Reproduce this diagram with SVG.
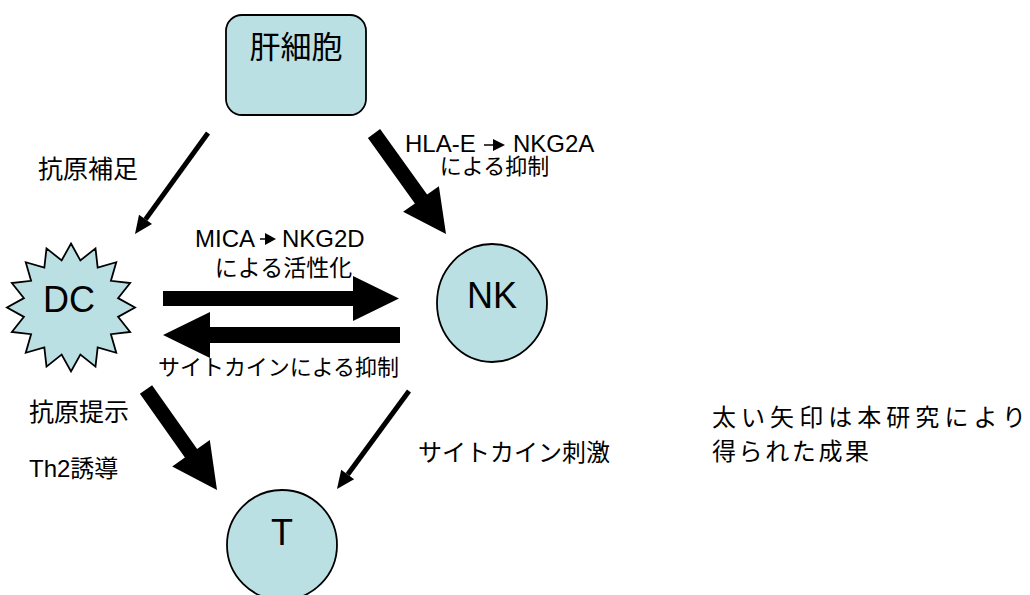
<svg xmlns="http://www.w3.org/2000/svg" width="1030" height="595" viewBox="0 0 1030 595">
<style>
.node{fill:#BBE0E3;stroke:#000;stroke-width:1.8}
.t{font-family:'Liberation Sans','Noto Sans CJK JP',sans-serif;fill:#000}
.big{font-size:36px;text-anchor:middle}
.lbl{font-size:24px}
.arr{fill:#000;stroke:none}
.thin{stroke:#000;stroke-width:5;fill:none}
</style>
<rect width="1030" height="595" fill="#fff"/>
<g id="liver">
<rect class="node" x="226" y="15" width="140" height="100" rx="16"/>
<text class="t" x="296" y="58" font-size="31" text-anchor="middle">肝細胞</text>
</g>
<g id="dc">
<polygon class="node" points="71,243.5 80.37,260.42 95.49,248.37 97.67,267.59 116.25,262.25 110.91,280.83 130.13,283.01 118.08,298.14 135,307.5 118.08,316.86 130.13,331.99 110.91,334.17 116.25,352.75 97.67,347.41 95.49,366.63 80.37,354.58 71,371.5 61.63,354.58 46.51,366.63 44.33,347.41 25.75,352.75 31.09,334.17 11.87,331.99 23.92,316.86 7,307.5 23.92,298.14 11.87,283.01 31.09,280.83 25.75,262.25 44.33,267.59 46.51,248.37 61.63,260.42"/>
<text class="t big" x="69" y="312">DC</text>
</g>
<g id="nk">
<ellipse class="node" cx="492" cy="303" rx="55" ry="59"/>
<text class="t big" x="492" y="308">NK</text>
</g>
<g id="t">
<circle class="node" cx="282" cy="545" r="55"/>
<text class="t big" x="282" y="545">T</text>
</g>
<g id="connectors">
<line class="thin" x1="208" y1="133" x2="145.5" y2="219.4"/>
<polygon class="arr" points="135,234 152,224.1 139,214.7"/>
<polygon class="arr" points="380.1,129.1 427.1,194.6 438.9,186.2 446,234 403.1,211.8 414.9,203.4 367.9,137.9"/>
<polygon class="arr" points="163,291 353,291 353,276 399,298.5 353,321 353,306 163,306"/>
<polygon class="arr" points="400,327 210,327 210,312 163,335 210,358 210,343 400,343"/>
<polygon class="arr" points="152.1,385.2 197.1,448.9 209.8,439.9 217,490 172.2,466.5 184.9,457.5 139.9,393.8"/>
<line class="thin" x1="409" y1="391" x2="347.7" y2="474.5"/>
<polygon class="arr" points="337,489 354.1,479.2 341.2,469.8"/>
</g>
<g id="labels">
<text class="t" x="38" y="178" font-size="25">抗原補足</text>
<text class="t lbl" x="405" y="152">HLA-E</text>
<path d="M484,145 H494" stroke="#000" stroke-width="1.5"/>
<polygon class="arr" points="493,139 505,145 493,151"/>
<text class="t lbl" x="513" y="152">NKG2A</text>
<text class="t" x="494.5" y="174" font-size="22" text-anchor="middle">による抑制</text>
<text class="t lbl" x="195" y="247">MICA</text>
<path d="M260,239 H267" stroke="#000" stroke-width="1.5"/>
<polygon class="arr" points="265,233 276,239 265,245"/>
<text class="t lbl" x="282" y="247">NKG2D</text>
<text class="t" x="283.5" y="276" font-size="23" text-anchor="middle">による活性化</text>
<text class="t" x="158" y="375" font-size="22" textLength="241" lengthAdjust="spacingAndGlyphs">サイトカインによる抑制</text>
<text class="t" x="29" y="421" font-size="25">抗原提示</text>
<text class="t lbl" x="29" y="477">Th2誘導</text>
<text class="t lbl" x="418" y="461">サイトカイン刺激</text>
<text class="t lbl" x="712" y="426" textLength="314">太い矢印は本研究により</text>
<text class="t lbl" x="712" y="460" textLength="157">得られた成果</text>
</g>
</svg>
